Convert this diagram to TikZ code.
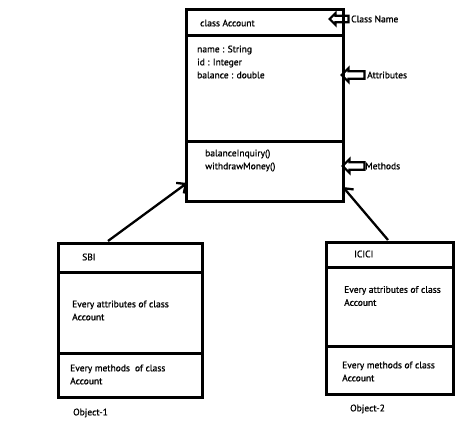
\documentclass[tikz,border=0pt]{standalone}
\usepackage{fontspec}
\setmainfont{PT Sans}[FakeBold=0.9]
\usetikzlibrary{shapes.arrows,arrows.meta}
\begin{document}
\begin{tikzpicture}[x=1pt,y=-1pt,
	part/.style = {draw, line width=2.6pt, rectangle, anchor=north west, inner sep=0pt},
	txt/.style = {anchor=west, inner sep=0pt, align=left, font=\fontsize{9.5}{13}\selectfont},
	link/.style = {line width=2.3pt, -{Straight Barb[length=7pt,width=13pt]}},
	ptr/.style = {draw, line width=2.2pt, single arrow, shape border rotate=180, anchor=tip, minimum width=12pt, minimum height=19pt, single arrow head extend=2pt, inner sep=1.2pt}]
	\useasboundingbox (0,0) rectangle (474,433);
	% class Account
	\node[part, minimum width=157pt, minimum height=26pt]  (acctitle) at (185,8)   {};
	\node[part, minimum width=157pt, minimum height=106pt] (accattr)  at (185,34)  {};
	\node[part, minimum width=157pt, minimum height=60pt]  (accmeth)  at (185,140) {};
	\node[txt] (accname) at (200,23)  {class Account};
	\node[txt] (accvars) at (197,62)  {name : String\\id : Integer\\balance : double};
	\node[txt] (accfuns) at (205,160.5) {balanceInquiry()\\withdrawMoney()};
	% labels on the right
	\node[ptr] (nameptr) at (328,19) {};
	\node[ptr, minimum width=14pt, minimum height=23pt] (attrptr) at (340,75) {};
	\node[ptr, minimum width=14pt, minimum height=22pt] (methptr) at (341,166) {};
	\node[txt] (namelbl) at (351,19)  {Class Name};
	\node[txt] (attrlbl) at (367,75)  {Attributes};
	\node[txt] (methlbl) at (365,166) {Methods};
	% object SBI
	\node[part, minimum width=144pt, minimum height=29pt] (sbititle) at (57,242) {};
	\node[part, minimum width=144pt, minimum height=81pt] (sbiattr)  at (57,271) {};
	\node[part, minimum width=144pt, minimum height=44pt] (sbimeth)  at (57,352) {};
	\node[txt] (sbiname) at (82,257)  {SBI};
	\node[txt] (sbivars) at (72,310.5)  {Every attributes of class\\Account};
	\node[txt] (sbifuns) at (70,374.5)  {Every methods~ of class\\Account};
	\node[txt] (sbiobj)  at (73,413)  {Object-1};
	% object ICICI
	\node[part, minimum width=127pt, minimum height=25pt] (icititle) at (325,241) {};
	\node[part, minimum width=127pt, minimum height=79pt] (iciattr)  at (325,266) {};
	\node[part, minimum width=127pt, minimum height=48pt] (icimeth)  at (325,345) {};
	\node[txt] (iciname) at (354,254)  {ICICI};
	\node[txt] (icivars) at (344,296)  {Every attributes of class\\Account};
	\node[txt] (icifuns) at (342,371.5)  {Every methods of class\\Account};
	\node[txt] (iciobj)  at (350,409)  {Object-2};
	% links
	\coordinate (sbitop) at (108,241);
	\coordinate (icitop) at (388,240);
	\coordinate (accleft) at (187,183);
	\coordinate (accright) at (343,187);
	\draw[link] (sbitop) -- (accleft);
	\draw[link] (icitop) -- (accright);
\end{tikzpicture}
\end{document}
